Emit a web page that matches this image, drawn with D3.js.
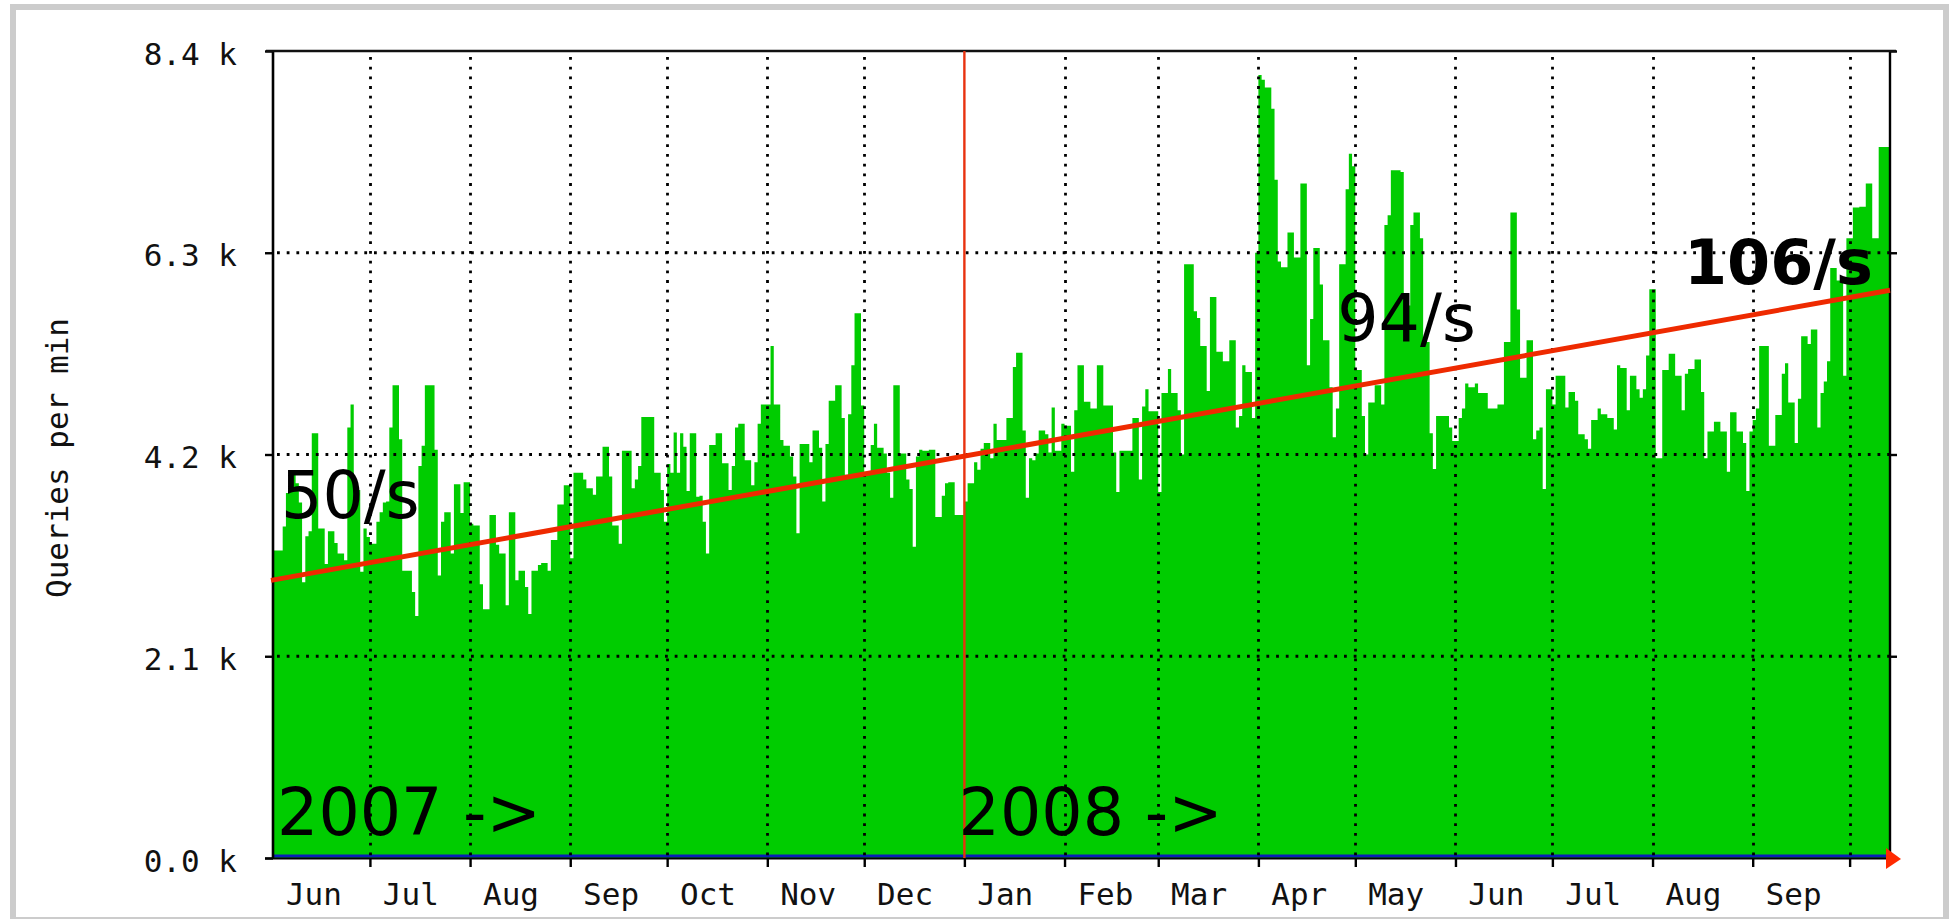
<!DOCTYPE html>
<html><head><meta charset="utf-8">
<script src="https://cdn.jsdelivr.net/npm/d3@7"></script>
<style>html,body{margin:0;padding:0;background:#fff;} svg{display:block;}</style>
</head><body>
<svg id="chart" width="1950" height="919"></svg>
<script>
// ---- data (thousand queries per minute, one value per day) ----
const startDate = "2007-06-01T00:00:00Z";
const endDate   = "2008-10-13T12:00:00Z";
const queries2007 = [
 3.20,3.20,3.20,3.45,3.80,3.90,4.00,3.90,3.70,2.87,
 3.35,3.40,4.42,4.42,3.43,3.43,3.06,3.40,3.40,3.28,
 3.17,3.17,3.10,4.48,4.72,3.83,3.83,2.98,3.43,3.34,
 3.27,3.27,3.50,3.60,3.70,3.71,4.48,4.92,4.92,4.36,
 2.99,2.99,2.99,2.77,2.52,4.08,4.29,4.92,4.92,4.92,
 4.25,2.94,3.50,3.60,3.60,3.17,3.89,3.89,3.59,3.91,
 3.91,3.48,3.46,3.46,2.85,2.59,2.59,3.57,3.57,3.26,
 3.17,3.17,2.63,3.60,3.60,2.89,2.99,2.99,2.82,2.54,
 2.99,2.99,3.05,3.07,3.07,2.99,3.31,3.31,3.68,3.68,
 3.88,3.88,3.12,4.01,4.01,4.01,3.94,3.85,3.85,3.78,
 3.97,3.97,4.28,4.28,3.97,3.46,3.46,3.27,4.24,4.24,
 4.24,3.85,3.94,4.08,4.59,4.59,4.59,4.59,4.01,4.01,
 3.83,3.50,4.10,4.01,4.43,4.01,
 4.42,4.28,3.82,4.42,
 4.42,3.76,3.77,3.50,3.17,4.30,4.30,4.42,4.42,4.11,
 4.11,3.83,4.08,4.48,4.52,4.52,4.14,4.14,3.88,4.12,
 4.52,4.72,4.72,4.72,5.33,4.72,4.72,4.35,4.29,4.29,
 4.18,3.97,3.38,4.31,4.31,4.31,4.12,4.45,4.45,4.27,
 3.71,4.31,4.76,4.76,4.92,4.92,4.58,3.99,4.62,5.13,
 5.67,5.67,4.71,4.02,4.02,4.30,4.52,4.27,4.27,4.21,
 4.01,3.75,4.92,4.92,4.21,4.21,3.94,3.84,3.24,4.18,
 4.25,4.24,4.24,4.25,4.25,3.55,3.55,3.77,3.90,3.91,
 3.91,3.57,3.57,3.57
];
const queries2008 = [
 3.71,3.90,3.90,4.12,4.04,4.26,
 4.32,4.32,4.16,4.52,4.35,4.35,4.35,4.58,4.58,5.11,
 5.26,5.26,4.45,3.75,4.16,4.14,4.21,4.45,4.45,4.41,
 4.22,4.69,4.24,4.24,4.52,4.50,4.50,4.02,4.66,5.13,
 5.13,4.75,4.75,4.68,4.68,5.13,5.13,4.71,4.71,4.71,
 4.22,3.81,4.24,4.24,4.24,4.24,4.58,4.58,3.94,4.70,
 4.88,4.65,4.65,4.65,3.81,4.84,4.84,5.09,4.84,4.84,
 4.66,4.20,6.18,6.18,6.18,5.69,5.62,5.33,5.33,4.86,
 5.84,5.84,5.27,5.27,5.17,5.17,5.39,5.39,4.48,4.60,
 5.13,5.06,5.06,4.58,6.30,8.15,8.10,8.02,8.02,7.80,
 7.06,6.21,6.15,6.15,6.51,6.51,6.25,6.25,7.02,7.02,
 5.13,5.61,6.35,6.35,5.97,5.39,5.39,4.90,4.38,4.68,
 6.18,6.18,6.96,7.33,7.20,5.08,5.08,4.60,4.20,4.74,
 4.74,4.92,4.92,4.72,6.59,6.69,7.16,7.16,7.16,7.14,
 5.75,5.75,6.59,6.72,6.72,6.45,5.37,5.37,4.42,4.05,
 4.60,4.60,4.60,4.60,4.48,4.34,4.34,4.58,4.68,4.94,
 4.90,4.90,4.94,4.84,4.84,4.84,4.68,4.68,4.68,4.72,
 4.72,5.37,5.37,6.72,6.72,5.71,5.00,5.00,5.39,5.39,
 4.36,4.45,4.48,3.84,4.88,4.88,4.72,5.02,5.02,5.02,
 4.69,4.85,4.85,4.76,4.41,4.41,4.36,4.26,4.56,4.56,
 4.68,4.62,4.62,4.58,4.58,4.46,5.13,5.10,5.10,4.66,
 5.02,5.02,4.88,4.79,4.88,5.23,5.92,5.92,4.16,4.16,
 5.08,5.08,5.25,5.25,5.02,5.02,4.66,5.04,5.09,5.09,
 5.19,5.19,4.85,4.16,4.44,4.44,4.54,4.54,4.44,4.44,
 4.02,4.64,4.64,4.44,4.44,4.32,3.82,4.44,4.56,4.68,
 5.33,5.33,5.33,4.29,4.29,4.61,4.61,5.04,5.15,4.74,
 4.74,4.32,4.78,5.43,5.43,5.35,5.50,5.50,4.48,4.84,
 4.96,5.17,6.14,6.14,6.01,6.01,5.02,6.45,6.45,6.77,
 6.77,6.78,6.78,7.02,7.02,6.45,6.45,7.40,7.40,7.40
];
const yTicks = [0, 2.1, 4.2, 6.3, 8.4];
const yTickLabels = ["0.0 k", "2.1 k", "4.2 k", "6.3 k", "8.4 k"];
const monthLabels = ["Jun","Jul","Aug","Sep","Oct","Nov","Dec","Jan","Feb","Mar","Apr","May","Jun","Jul","Aug","Sep"];
const trendValues = [2.89, 5.91];          // regression line, start and end (k/min)
const yearMarker = "2008-01-01T00:00:00Z";
const rateLabels = [
  {text: "50/s",  date: "2007-06-03T12:00:00Z", value: 3.54, bold: false},
  {text: "94/s",  date: "2008-04-25T10:00:00Z", value: 5.38, bold: false},
  {text: "106/s", date: "2008-08-10T17:00:00Z", value: 5.975, bold: true}
];
const yearLabels = [
  {text: "2007 ->", date: "2007-06-02T06:00:00Z", value: 0.24},
  {text: "2008 ->", date: "2007-12-30T05:00:00Z", value: 0.24}
];
const yTitle = "Queries per min";

// ---- drawing ----
const DAY = 864e5;
const svg = d3.select("#chart");
const t0 = new Date(startDate), t1 = new Date(endDate);
const x = d3.scaleUtc().domain([t0, t1]).range([273, 1890]);
const y = d3.scaleLinear().domain([0, 8.4]).range([858, 51]);
const X0 = x.range()[0], X1 = x.range()[1], Y0 = y(0), YT = y(8.4);
const mono = "'DejaVu Sans Mono', monospace";

// outer frame
svg.append("rect").attr("x", 13).attr("y", 7).attr("width", 1933).attr("height", 913)
  .attr("fill", "#fff").attr("stroke", "#cccccc").attr("stroke-width", 6);

// area
const values = queries2007.concat(queries2008);
const pts = values.map((v, i) => ({t: new Date(t0.getTime() + i * DAY), v}));
pts.push({t: t1, v: values[values.length - 1]});
svg.append("path").datum(pts)
  .attr("d", d3.area().curve(d3.curveStepAfter).x(d => x(d.t)).y0(Y0).y1(d => y(d.v)))
  .attr("fill", "#00cc00");

// blue zero line
svg.append("line").attr("x1", X0).attr("x2", X1).attr("y1", Y0 - 2).attr("y2", Y0 - 2)
  .attr("stroke", "#0a1fb8").attr("stroke-width", 3.2);

// grid
const months = d3.utcMonth.range(t0, t1);
const gridMonths = months.filter(m => m > t0 && +m !== +new Date(yearMarker));
const dot = {w: 2.8, dash: "2.8 6.9"};
svg.append("g").selectAll("line").data(gridMonths).join("line")
  .attr("x1", d => Math.round(x(d)) + 0.5).attr("x2", d => Math.round(x(d)) + 0.5)
  .attr("y1", YT + 6).attr("y2", Y0)
  .attr("stroke", "#000").attr("stroke-width", dot.w).attr("stroke-dasharray", dot.dash);
svg.append("g").selectAll("line").data(yTicks.filter(v => v > 0 && v < 8.4)).join("line")
  .attr("x1", X0 + 4).attr("x2", X1).attr("y1", d => y(d)).attr("y2", d => y(d))
  .attr("stroke", "#000").attr("stroke-width", dot.w).attr("stroke-dasharray", dot.dash);

// y axis (left) ticks + labels
const yAxis = svg.append("g").attr("transform", `translate(${X0},0)`)
  .call(d3.axisLeft(y).tickValues(yTicks).tickSize(8).tickPadding(28)
    .tickFormat((d, i) => yTickLabels[i]));
yAxis.select(".domain").remove();
yAxis.selectAll("line").attr("stroke", "#000").attr("stroke-width", 2.4);
yAxis.selectAll("text").attr("font-family", mono).attr("font-size", 31).attr("fill", "#111").attr("dy", "0.42em");

// right ticks
const yAxisR = svg.append("g").attr("transform", `translate(${X1},0)`)
  .call(d3.axisRight(y).tickValues(yTicks).tickSize(7).tickFormat(""));
yAxisR.select(".domain").remove();
yAxisR.selectAll("line").attr("stroke", "#000").attr("stroke-width", 2.4);

// x axis ticks
const xAxis = svg.append("g").attr("transform", `translate(0,${Y0})`)
  .call(d3.axisBottom(x).tickValues(months.filter(m => m > t0)).tickSize(9).tickFormat(""));
xAxis.select(".domain").remove();
xAxis.selectAll("line").attr("stroke", "#000").attr("stroke-width", 2.4);

// x labels
const labelDates = months.slice(0, monthLabels.length).map(m => new Date(m.getTime() + 12.5 * DAY));
const xLab = svg.append("g").attr("transform", `translate(0,${Y0})`)
  .call(d3.axisBottom(x).tickValues(labelDates).tickSize(0).tickPadding(25)
    .tickFormat((d, i) => monthLabels[i]));
xLab.select(".domain").remove();
xLab.selectAll("text").attr("font-family", mono).attr("font-size", 31).attr("fill", "#111");

// frame lines
svg.append("line").attr("x1", X0).attr("x2", X0).attr("y1", YT).attr("y2", Y0 + 1)
  .attr("stroke", "#000").attr("stroke-width", 2.6);
svg.append("line").attr("x1", X1).attr("x2", X1).attr("y1", YT).attr("y2", Y0)
  .attr("stroke", "#000").attr("stroke-width", 2.4);
svg.append("line").attr("x1", X0 - 7).attr("x2", X1 + 6).attr("y1", YT).attr("y2", YT)
  .attr("stroke", "#111").attr("stroke-width", 2.6);
svg.append("line").attr("x1", X0 - 8).attr("x2", X1).attr("y1", Y0 + 0.5).attr("y2", Y0 + 0.5)
  .attr("stroke", "#000").attr("stroke-width", 2.2);

// arrow
svg.append("path")
  .attr("d", `M${X1 - 4},${Y0 - 10}L${X1 + 11},${Y0 + 1}L${X1 - 4},${Y0 + 11}Z`)
  .attr("fill", "#ff2a00");

// year marker
svg.append("line").attr("x1", x(new Date(yearMarker))).attr("x2", x(new Date(yearMarker)))
  .attr("y1", YT).attr("y2", Y0).attr("stroke", "#e8320f").attr("stroke-width", 2.4);

// trend line
svg.append("line")
  .attr("x1", x(t0) - 2).attr("y1", y(trendValues[0]))
  .attr("x2", x(t1)).attr("y2", y(trendValues[1]))
  .attr("stroke", "#ee2a00").attr("stroke-width", 5);

// y title
svg.append("text").attr("transform", "translate(68,458) rotate(-90)")
  .attr("text-anchor", "middle").attr("font-family", mono).attr("font-size", 31)
  .attr("fill", "#111").text(yTitle);

// annotations
const sans = "'DejaVu Sans', sans-serif";
svg.append("g").selectAll("text").data(rateLabels).join("text")
  .attr("x", d => x(new Date(d.date))).attr("y", d => y(d.value))
  .attr("font-family", sans).attr("font-size", d => d.bold ? 62 : 65)
  .attr("font-weight", d => d.bold ? "bold" : "normal")
  .attr("fill", "#000").text(d => d.text);
svg.append("g").selectAll("text").data(yearLabels).join("text")
  .attr("x", d => x(new Date(d.date))).attr("y", d => y(d.value))
  .attr("font-family", sans).attr("font-size", 65)
  .attr("fill", "#000").text(d => d.text);
</script>
</body></html>
